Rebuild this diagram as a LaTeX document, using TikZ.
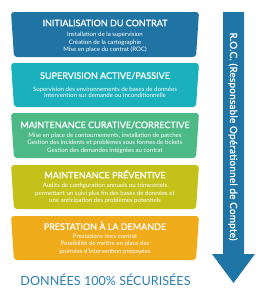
\documentclass[tikz,border=0pt]{standalone}
\usepackage{fontspec}
\setmainfont{Lato}
\newfontface\latomedium{Lato}[FakeBold=1.2]
\newfontface\rocfont{Lato}[FakeBold=1.2, LetterSpace=3]
\usepackage{tikz}
\usetikzlibrary{positioning}
\definecolor{stageblue}{HTML}{1F74A3}
\definecolor{stageteal}{HTML}{1AB0BC}
\definecolor{stagegreen}{HTML}{4CB987}
\definecolor{stageolive}{HTML}{C4C11A}
\definecolor{stageorange}{HTML}{F0AB1B}
\definecolor{rocblue}{HTML}{1F76A6}
\definecolor{safeblue}{HTML}{2A7DB3}

\begin{document}
\begin{tikzpicture}[
  x=1pt, y=-1pt,
  stagebox/.style={rounded corners=3pt},
  title/.style={text=white, font=\latomedium\fontsize{9}{10}\selectfont, inner sep=0pt},
  body/.style={text=white, font=\fontsize{6.1}{7.6}\selectfont, align=center, inner sep=0pt},
  roc/.style={fill=rocblue}
]
  \useasboundingbox (0,0) rectangle (263,300);

  % Stage 1: initialisation
  \fill[stagebox, stageblue] (11,12) -- (199,12) -- (196,57) -- (14,57) -- cycle;
  \node[title] (init) at (105,23) {INITIALISATION DU CONTRAT};
  \node[body] (initdesc) at (105,42.3) {Installation de la supervision\\Création de la cartographie\\Mise en place du contrat (ROC)};

  % Stage 2: supervision
  \fill[stagebox, stageteal] (11,63) -- (199,63) -- (196,107) -- (14,107) -- cycle;
  \node[title] (superv) at (105,75.7) {SUPERVISION ACTIVE/PASSIVE};
  \node[body, font=\fontsize{6.1}{6.6}\selectfont] (supervdesc) at (105,92.3) {Supervision des environnements de bases de données\\Intervention sur demande ou inconditionnelle};

  % Stage 3: maintenance curative
  \fill[stagebox, stagegreen] (11,113) -- (199,113) -- (196,158) -- (14,158) -- cycle;
  \node[title] (curative) at (105,125) {MAINTENANCE CURATIVE/CORRECTIVE};
  \node[body] (curativedesc) at (105,143.3) {Mise en place de contournements, installation de patches\\Gestion des incidents et problèmes sous formes de tickets\\Gestion des demandes intégrées au contrat};

  % Stage 4: maintenance preventive
  \fill[stagebox, stageolive] (11,165) -- (199,165) -- (196,209) -- (14,209) -- cycle;
  \node[title] (prevent) at (105,174.3) {MAINTENANCE PRÉVENTIVE};
  \node[body] (preventdesc) at (105,193.6) {Audits de configuration annuels ou trimestriels\\permettant un suivi plus fin des bases de données et\\une anticipation des problèmes potentiels};

  % Stage 5: prestation a la demande
  \fill[stagebox, stageorange] (11,216) -- (199,216) -- (196,260) -- (14,260) -- cycle;
  \node[title] (demand) at (105,225.7) {PRESTATION À LA DEMANDE};
  \node[body] (demanddesc) at (105,244.2) {Prestations hors contrat\\Possibilité de mettre en place des\\journées d'intervention prépayées};

  % Bottom line
  \node[text=safeblue, font=\fontsize{12.6}{14}\selectfont, inner sep=0pt] (safe) at (105.5,280) {DONNÉES 100\% SÉCURISÉES};

  % ROC arrow
  \fill[roc] (223,12) -- (244,12) -- (244,254) -- (255,254) -- (233.5,283) -- (212,254) -- (223,254) -- cycle;
  \node[text=white, rotate=-90, font=\rocfont\fontsize{9.8}{11}\selectfont, inner sep=0pt] (roclabel) at (233,136.5) {R.O.C. (Responsable Opérationnel de Compte)};
\end{tikzpicture}
\end{document}
